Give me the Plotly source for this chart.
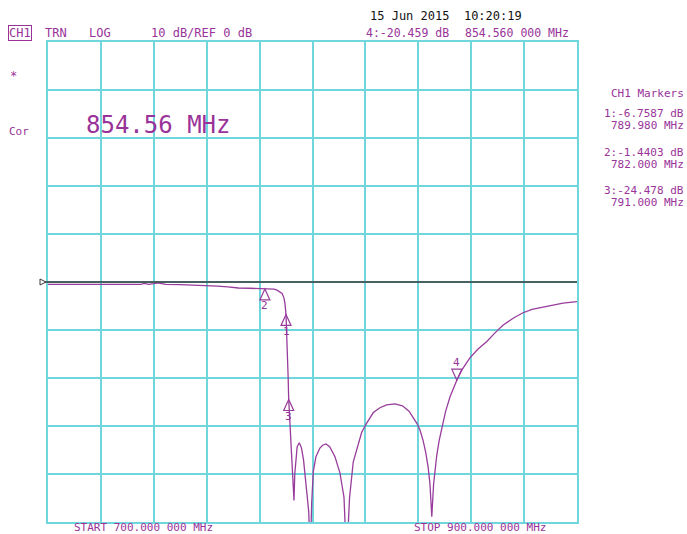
import plotly.graph_objects as go

# Swept transmission trace, CH1 (frequency in MHz, magnitude in dB)
freq_mhz = [
    700, 710, 720, 730, 735, 736.5, 738, 740, 741.5, 743, 744.5, 750, 760, 764,
    768, 772, 776, 780, 782, 784, 785.5, 786.6, 787.6, 788.5, 789.2, 789.6,
    789.98, 790.4, 790.8, 791.0, 791.4, 791.8, 792.2, 792.6, 793.0, 793.3,
    793.7, 794.2, 795.0, 795.8, 796.6, 797.2, 798.0, 798.6, 799.1, 799.7,
    800.3, 801.3, 802.8, 803.8, 805.1, 806.5, 807.6, 808.5, 809.5, 810.4,
    811.2, 811.9, 812.9, 814.0, 815.4, 817.3, 818.6, 820.5, 823, 825.5, 828,
    831.2, 834, 836.5, 838, 839.5, 840.6, 841.8, 842.8, 843.7, 844.4, 845.1,
    845.8, 846.4, 847.0, 847.9, 848.8, 850.3, 852, 854.56, 856.5, 859.5,
    862.5, 865.9, 869, 872, 876, 879.6, 883, 887.1, 891, 894.7, 900,
]
mag_db = [
    -0.48, -0.5, -0.5, -0.5, -0.5, -0.3, -0.5, -0.35, -0.2, -0.35, -0.5, -0.55,
    -0.7, -0.85, -1.0, -1.25, -1.3, -1.4, -1.44, -1.4, -1.5, -1.7, -2.0, -2.4,
    -3.3, -4.5, -6.76, -12, -20, -24.48, -29, -33, -36, -40, -45.5, -40,
    -36.5, -34.3, -33.5, -34.5, -37, -39.8, -44.7, -48, -58, -46,
    -39.5, -36.4, -34.6, -34.0, -33.75, -34.3, -35.5, -36.4, -38.2, -39.8,
    -42.5, -44.8, -58, -45, -37.5, -33.5, -31.3, -29.4, -27.2, -26.2, -25.6,
    -25.4, -25.8, -26.9, -28.1, -29.5, -30.8, -33, -35.5, -38.5, -42, -48.9,
    -42, -38.5, -36, -33, -30.8, -27, -23.9, -20.46, -18.3, -15.8,
    -14.0, -12.4, -10.6, -9.0, -7.5, -6.4, -5.7, -5.2, -4.8, -4.4, -4.1,
]

# Marker table
marker_ids = ["1", "2", "3", "4"]
marker_freq = [789.98, 782.0, 791.0, 854.56]
marker_db = [-6.7587, -1.4403, -24.478, -20.459]
active_marker = "4"

START_MHZ, STOP_MHZ = 700.0, 900.0
REF_DB, DB_PER_DIV = 0.0, 10.0

W, H = 687, 534
ML, MR, MT, MB = 48, 110, 42, 12
PW, PH = W - ML - MR, H - MT - MB

GRID = "#6fd6dc"
TRACE = "#983c9c"
TEXT = "#993399"
MONO = "DejaVu Sans Mono, Liberation Mono, monospace"


def px(x, y):
    """Pixel position on the screen -> paper coordinates."""
    return (x - ML) / PW, (H - MB - y) / PH


fig = go.Figure()
fig.add_trace(go.Scatter(
    x=freq_mhz, y=mag_db, mode="lines",
    line=dict(color=TRACE, width=1.3, shape="linear"),
    hoverinfo="skip", showlegend=False,
))

shapes = []
# reference level line with its left-edge flag
shapes.append(dict(type="line", xref="paper", yref="y", x0=-7 / PW, x1=1,
                   y0=REF_DB, y1=REF_DB, line=dict(color="#3a3a3a", width=1.3),
                   layer="above"))
shapes.append(dict(type="path", xref="paper", yref="y", xsizemode="pixel",
                   ysizemode="pixel", xanchor=0, yanchor=REF_DB,
                   path="M -8,3 L -8,-3 L -2,0 Z",
                   line=dict(color="#3a3a3a", width=1), fillcolor="white"))

annotations = []
for mid, mf, md in zip(marker_ids, marker_freq, marker_db):
    if mid == active_marker:
        tri = "M 0,0 L -5,11 L 5,11 Z"
        num_shift = 18
    else:
        tri = "M 0,0 L -5,-11 L 5,-11 Z"
        num_shift = -17
    shapes.append(dict(type="path", xref="x", yref="y", xsizemode="pixel",
                       ysizemode="pixel", xanchor=mf, yanchor=md, path=tri,
                       line=dict(color=TRACE, width=1.2)))
    annotations.append(dict(x=mf, y=md, xref="x", yref="y", text=mid,
                            showarrow=False, yshift=num_shift,
                            font=dict(family=MONO, size=11, color=TEXT)))


def label(x, y, text, size=12, color=TEXT, anchor="left", **kw):
    ax, ay = px(x, y)
    annotations.append(dict(x=ax, y=ay, xref="paper", yref="paper", text=text,
                            showarrow=False, xanchor=anchor, yanchor="middle",
                            font=dict(family=MONO, size=size, color=color), **kw))


# header
label(8, 33, "CH1", size=12, bordercolor=TEXT, borderwidth=1, borderpad=0)
label(43, 33, "TRN")
label(87, 33, "LOG")
label(149, 33, "10 dB/REF 0 dB")
label(368, 16, "15 Jun 2015  10:20:19", color="#111111")
label(364, 33, "4:-20.459 dB", size=11.5)
label(463, 33, "854.560 000 MHz", size=11.5)
# left status column
label(8, 76, "*", size=12)
label(7, 131, "Cor", size=11)
# large marker readout
label(84, 125, "854.56 MHz", size=24)
# marker list on the right
mk_lines = [("CH1 Markers", 94)]
for mid, mf, md, y0 in zip(marker_ids[:3], marker_freq[:3], marker_db[:3], [113, 152, 190]):
    db_txt = f"{md:.4f}" if abs(md) < 10 else f"{md:.3f}"
    mk_lines.append((f"{mid}:{db_txt} dB", y0))
    mk_lines.append((f"{mf:.3f} MHz", y0 + 12))
for t, y0 in mk_lines:
    label(686, y0, t, size=11, anchor="right")
# sweep limits
label(72, 527.5, f"START {START_MHZ:.3f} 000 MHz", size=11)
label(412, 527.5, f"STOP {STOP_MHZ:.3f} 000 MHz", size=11)

axis_common = dict(showgrid=True, gridcolor=GRID, gridwidth=2,
                   showline=True, linecolor=GRID, linewidth=2, mirror=True,
                   showticklabels=False, ticks="", zeroline=False,
                   fixedrange=True)
fig.update_layout(
    width=W, height=H,
    margin=dict(l=ML, r=MR, t=MT, b=MB, pad=0),
    paper_bgcolor="white", plot_bgcolor="white",
    xaxis=dict(range=[START_MHZ, STOP_MHZ], tick0=START_MHZ,
               dtick=(STOP_MHZ - START_MHZ) / 10, **axis_common),
    yaxis=dict(range=[REF_DB - 5 * DB_PER_DIV, REF_DB + 5 * DB_PER_DIV],
               tick0=REF_DB, dtick=DB_PER_DIV, **axis_common),
    shapes=shapes, annotations=annotations, showlegend=False,
)
fig.write_html("out.html")
